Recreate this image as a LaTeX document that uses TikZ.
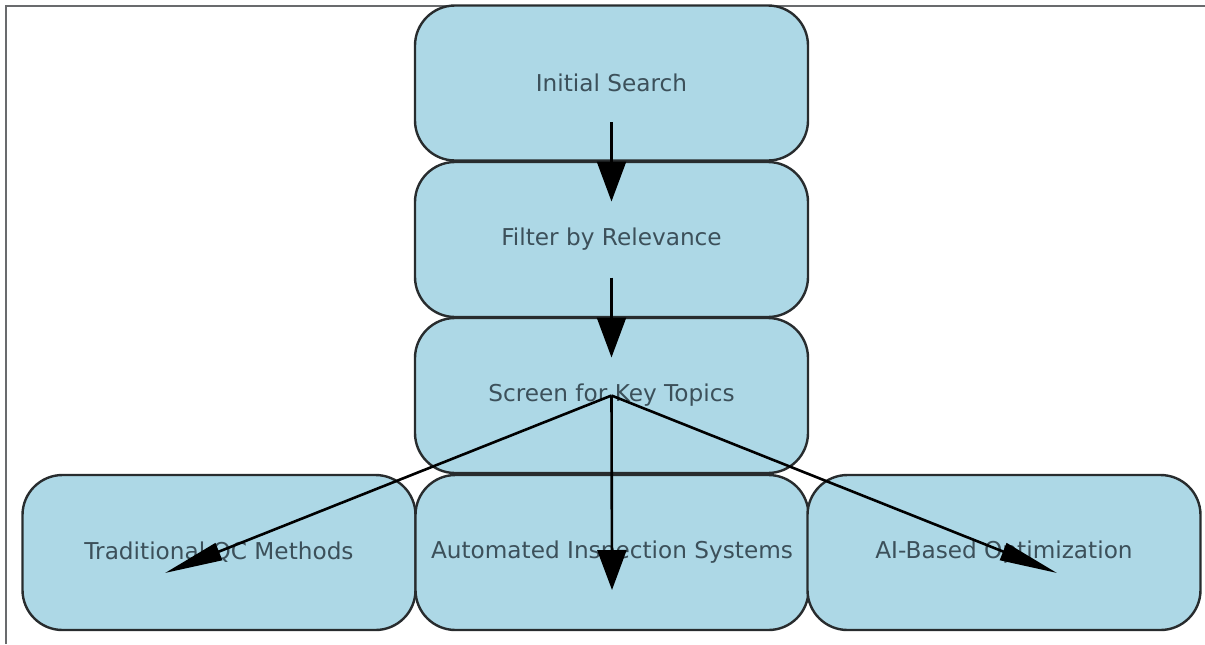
\documentclass[tikz,border=0pt]{standalone}
\usepackage{fontspec}
\setmainfont{DejaVu Sans}
\usetikzlibrary{arrows.meta}
\definecolor{boxfill}{RGB}{173,216,230}
\definecolor{boxline}{RGB}{40,44,46}
\definecolor{labeltext}{RGB}{60,80,90}
\begin{document}
\begin{tikzpicture}[x=0.5pt,y=-0.5pt,
  stage/.style={draw=boxline, line width=1.2pt, fill=boxfill, rounded corners=20pt,
    minimum width=196.5pt, minimum height=77.5pt, inner sep=0pt,
    text=labeltext, font=\fontsize{11.6pt}{14pt}\selectfont},
  arr/.style={line width=1.3pt, -{Triangle[length=20pt,width=14.5pt]}},
  diagarr/.style={line width=1.3pt, -{Triangle[length=29pt,width=9pt]}}]
  \useasboundingbox (0,0) rectangle (1205,644);
  % frame
  \draw[line width=1.2pt, boxline!70] (6,644) -- (6,6) -- (1205,6);
  % stages
  \node[stage] (is) at (611.5,83)    {Initial Search};
  \node[stage] (fr) at (611.5,239.5) {Filter by Relevance};
  \node[stage] (sk) at (611.5,395.5) {Screen for Key Topics};
  \node[stage] (ta) at (219,552.5)   {Traditional QC Methods};
  \node[stage] (au) at (612,552.5)   {Automated Inspection Systems};
  \node[stage] (ai) at (1004,552.5)  {AI-Based Optimization};
  % connectors
  \draw[arr] ([yshift=-19.5pt]is.center) -- ([yshift=19pt]fr.center);
  \draw[arr] ([yshift=-19pt]fr.center) -- ([yshift=19pt]sk.center);
  \draw[diagarr] (sk.center) -- ([shift={(-27pt,-10.25pt)}]ta.center);
  \draw[arr] (sk.center) -- ([yshift=-18.75pt]au.center);
  \draw[diagarr] (sk.center) -- ([shift={(26.5pt,-10.25pt)}]ai.center);
\end{tikzpicture}
\end{document}
